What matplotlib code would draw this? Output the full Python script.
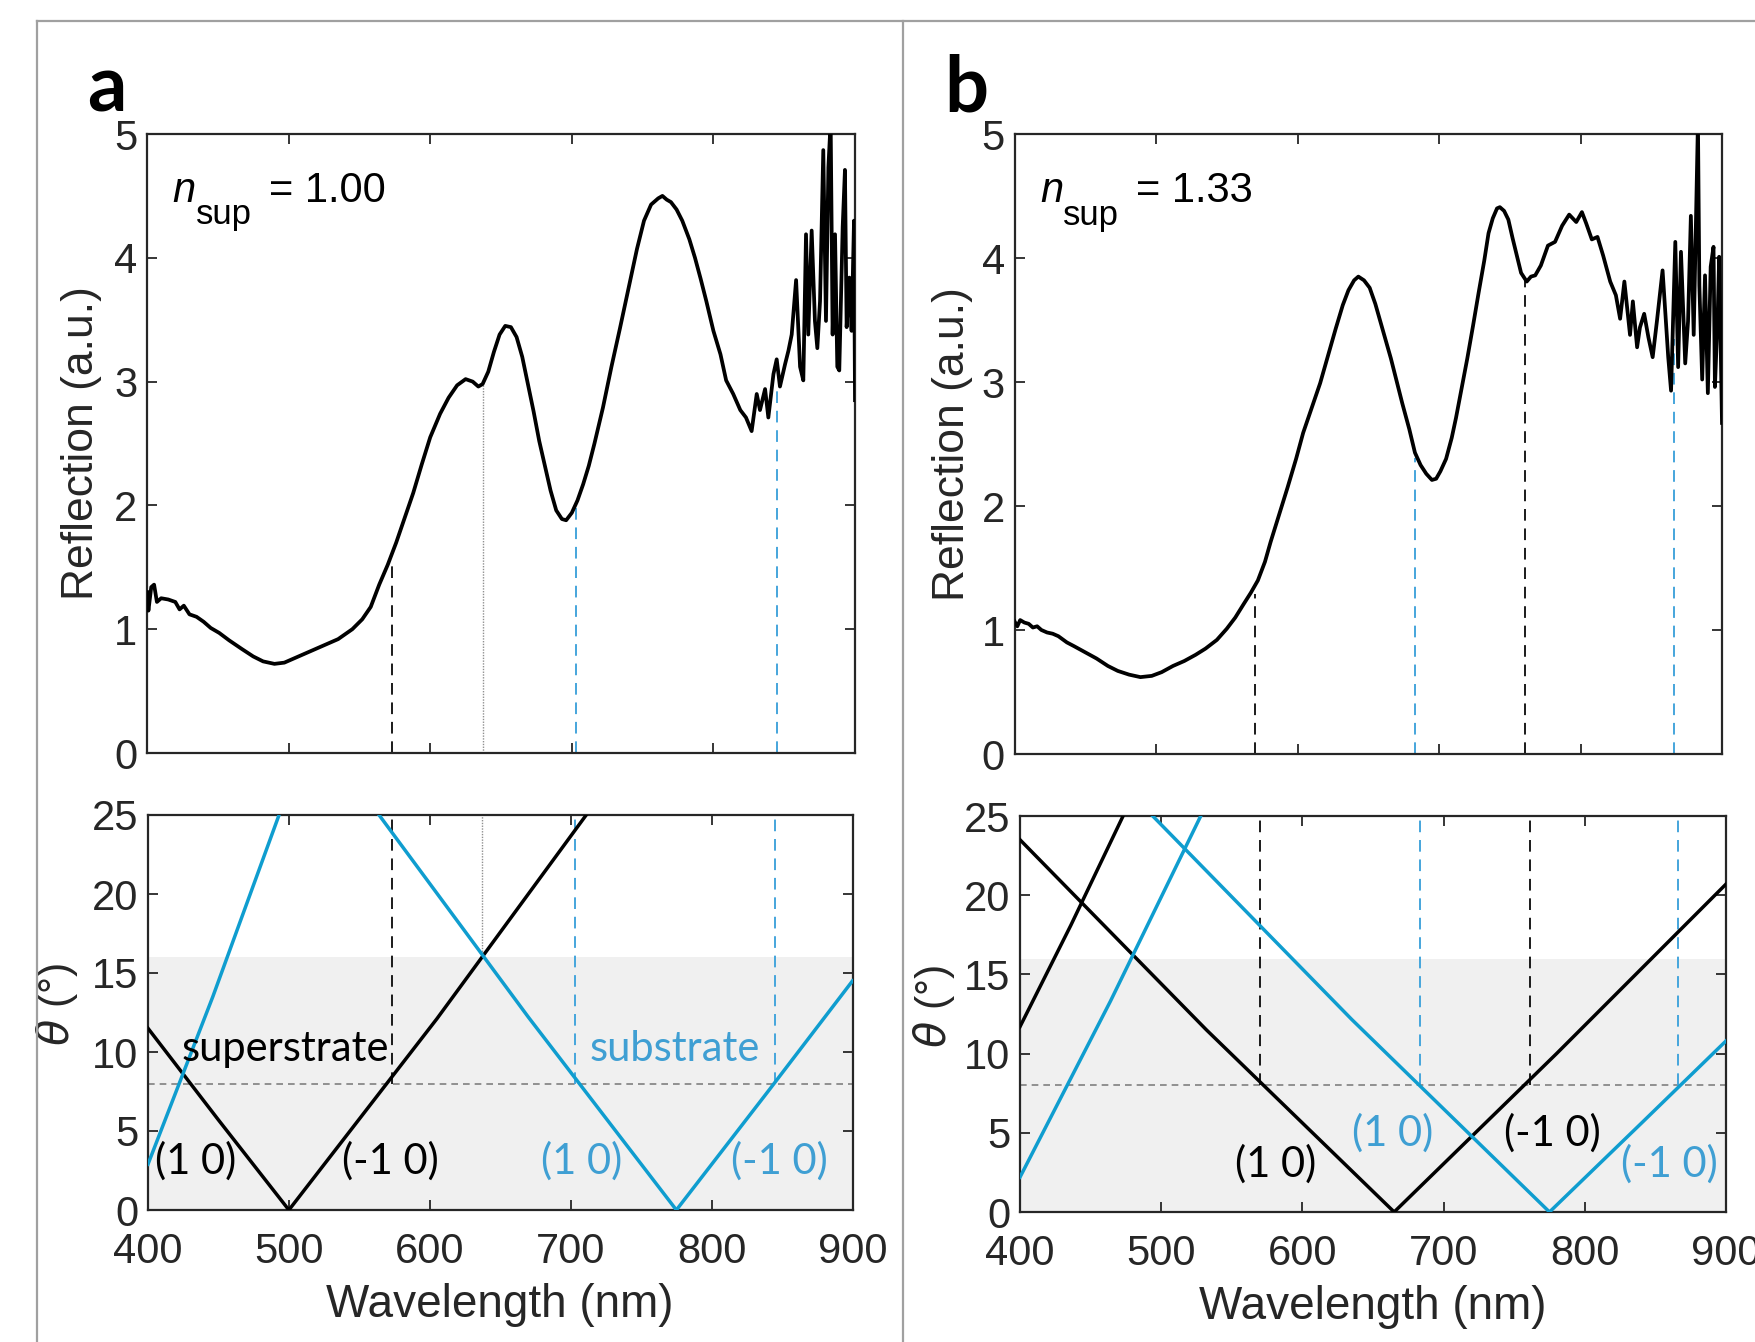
import matplotlib
matplotlib.use('Agg')
import matplotlib.pyplot as plt
from matplotlib.lines import Line2D

plt.rcParams['font.family'] = ['Liberation Sans', 'DejaVu Sans']

# ---------------- data: reflection spectra ----------------
wl_a = [400, 401, 403, 405, 407, 410, 415, 420, 423, 426, 430, 435, 440, 445, 451, 458, 467, 475,
        482, 490, 497, 505, 515, 525, 535, 545, 552, 558, 564, 570, 576, 582, 588, 594, 600, 607,
        613, 619, 625, 630, 634, 637, 641, 645, 649, 653, 657, 661, 665, 669, 673, 677, 681, 685,
        689, 693, 696, 700, 704, 708, 712, 716, 722, 728, 734, 740, 746, 751, 756, 761, 764, 767,
        770, 774, 778, 783, 787, 791, 795, 800, 805, 809, 814, 819, 823, 827, 830.6, 832.9, 836.5,
        838.8, 842.4, 844.7, 847, 850.6, 853, 855.3, 858.4, 861.2, 863.5, 865.4, 867, 869.4, 871.7,
        873.4, 875.3, 877.6, 879.5, 881.2, 882.8, 884.2, 885.9, 887.5, 888.9, 891.3, 892.9, 894.1,
        896, 897.6, 899.3, 900]
R_a = [1.30, 1.15, 1.34, 1.36, 1.22, 1.25, 1.24, 1.22, 1.16, 1.19, 1.12, 1.10, 1.06, 1.01, 0.97,
       0.91, 0.84, 0.78, 0.74, 0.72, 0.73, 0.77, 0.82, 0.87, 0.92, 1.00, 1.08, 1.18, 1.36, 1.52,
       1.70, 1.90, 2.10, 2.33, 2.55, 2.74, 2.87, 2.97, 3.02, 3.00, 2.96, 2.98, 3.08, 3.24, 3.38,
       3.45, 3.44, 3.36, 3.20, 2.98, 2.76, 2.52, 2.32, 2.12, 1.96, 1.89, 1.88, 1.94, 2.04, 2.17,
       2.32, 2.50, 2.79, 3.12, 3.43, 3.75, 4.07, 4.30, 4.43, 4.48, 4.50, 4.47, 4.45, 4.39, 4.30,
       4.15, 4.00, 3.83, 3.65, 3.41, 3.22, 3.01, 2.90, 2.77, 2.71, 2.60, 2.90, 2.77, 2.94, 2.71,
       3.06, 3.18, 2.96, 3.14, 3.25, 3.38, 3.82, 3.12, 3.01, 4.19, 3.38, 4.22, 3.49, 3.27, 3.65,
       4.87, 3.49, 4.73, 5.10, 3.38, 4.19, 3.12, 3.09, 4.25, 4.71, 3.44, 3.84, 3.41, 4.30, 2.85]

wl_b = [400, 402, 404, 407, 410, 413, 416, 419, 423, 427, 431, 437, 442, 450, 458, 466, 473, 481,
        489, 497, 504, 512, 520, 528, 535, 543, 550, 556, 562, 567, 572, 577, 581, 587, 593, 599,
        604, 610, 616, 622, 627, 632, 636, 640, 643, 647, 651, 655, 658, 662, 666, 670, 674, 679,
        683, 687, 691, 695, 698, 701, 705, 709, 712, 716, 720, 724, 728, 732, 735, 738, 741, 743,
        746, 749, 752, 755, 758, 762, 765, 768, 772, 777, 782, 787, 792, 797, 801, 804, 808, 812,
        816, 821, 825, 828, 831, 835, 837, 840, 842, 845, 848, 851, 854, 858, 862, 864, 867, 869,
        871, 874, 876, 878, 880, 883, 884, 886, 888, 890, 892, 894, 895, 897, 898, 900]
R_b = [1.07, 1.03, 1.08, 1.06, 1.05, 1.02, 1.03, 1.00, 0.98, 0.97, 0.95, 0.90, 0.87, 0.82, 0.77,
       0.71, 0.67, 0.64, 0.62, 0.63, 0.66, 0.71, 0.75, 0.80, 0.85, 0.92, 1.01, 1.10, 1.21, 1.30,
       1.40, 1.55, 1.71, 1.93, 2.15, 2.38, 2.59, 2.79, 2.99, 3.23, 3.43, 3.62, 3.74, 3.82, 3.85,
       3.82, 3.76, 3.63, 3.51, 3.35, 3.19, 3.01, 2.83, 2.62, 2.43, 2.33, 2.26, 2.21, 2.22, 2.28,
       2.38, 2.55, 2.71, 2.95, 3.19, 3.45, 3.72, 3.98, 4.20, 4.32, 4.40, 4.41, 4.38, 4.31, 4.16,
       4.02, 3.88, 3.81, 3.85, 3.86, 3.94, 4.10, 4.13, 4.26, 4.35, 4.29, 4.37, 4.28, 4.15, 4.17,
       4.02, 3.81, 3.70, 3.51, 3.81, 3.38, 3.65, 3.28, 3.44, 3.55, 3.36, 3.20, 3.49, 3.90, 3.20,
       2.93, 4.13, 3.12, 4.05, 3.15, 3.49, 4.34, 3.38, 5.10, 3.78, 3.02, 3.86, 2.91, 3.93, 4.09,
       2.96, 3.55, 4.01, 2.67]

# ---------------- data: diffraction-order lines (wavelength, angle) ----------------
a_sup_p1 = ([400, 450, 500], [11.5, 5.7, 0])
a_sup_m1 = ([500, 605, 711], [0, 12.1, 25])
a_sub_p1 = ([564, 670, 775], [25, 12.2, 0])
a_sub_m1 = ([775, 840, 900], [0, 7.5, 14.5])
a_sub_2 = ([400, 446, 493], [2.9, 13.5, 25])

b_sup_p1 = ([400, 532, 665], [23.5, 11.5, 0])
b_sup_m1 = ([665, 780, 900], [0, 10.0, 20.7])
b_sup_2 = ([400, 436, 473], [11.7, 18.1, 25])
b_sub_p1 = ([494, 635, 775], [25, 12.15, 0])
b_sub_m1 = ([775, 840, 900], [0, 5.6, 10.8])
b_sub_2 = ([400, 464, 528], [2.2, 13.3, 25])

# marker lines: wavelength, reflection at top, kind, starting angle in lower panel
a_marks_wl = [573, 637, 703, 845]
a_marks_R = [1.55, 2.97, 2.00, 2.97]
a_marks_kind = ['k', 'dot', 'b', 'b']
a_marks_theta = [8, 16, 8, 8]
b_marks_wl = [570, 683, 761, 866]
b_marks_R = [1.29, 2.39, 3.83, 3.35]
b_marks_kind = ['k', 'b', 'k', 'b']
b_marks_theta = [8, 8, 8, 8]

theta_inc = 8
theta_na = 16
n_sup_labels = ['1.00', '1.33']

W, H = 1755, 1342
fig = plt.figure(figsize=(W / 100, H / 100), dpi=100)

BLUE = '#0f9dcf'
BLUE_D = '#45a5dc'
BLUE_T = '#3f9fd3'
AX = '#262626'

# frame lines
for xs, ys in [([37 / W, 37 / W], [0, 1 - 21 / H]),
               ([37 / W, 1.0], [1 - 21 / H, 1 - 21 / H]),
               ([903 / W, 903 / W], [0, 1 - 21 / H])]:
    fig.add_artist(Line2D(xs, ys, transform=fig.transFigure, color='#a0a0a0', lw=1.6))

ax_at = fig.add_axes([147 / W, 1 - 753 / H, 708 / W, 619 / H])
ax_ab = fig.add_axes([148 / W, 1 - 1210 / H, 704.5 / W, 395 / H])
ax_bt = fig.add_axes([1014.5 / W, 1 - 754 / H, 707.5 / W, 620 / H])
ax_bb = fig.add_axes([1020 / W, 1 - 1212 / H, 706 / W, 396 / H])


def style(ax, bottom_labels):
    for s in ax.spines.values():
        s.set_color(AX)
        s.set_linewidth(1.6)
    ax.tick_params(direction='in', top=True, right=True, length=7, width=1.3,
                   labelsize=30, colors=AX, labelbottom=bottom_labels, pad=7)
    ax.tick_params(axis='x', pad=16)
    ax.set_xlim(400, 900)
    ax.set_xticks([400, 500, 600, 700, 800, 900])


def dash_color(kind):
    return {'k': '#1a1a1a', 'b': BLUE_D, 'dot': '#909090'}[kind]


def dash_style(kind):
    return (0, (1, 1)) if kind == 'dot' else (0, (6, 4))


def top_panel(ax, wl, R, mwl, mR, mk, nlab, ylab_x):
    style(ax, False)
    ax.set_ylim(0, 5)
    ax.set_yticks([0, 1, 2, 3, 4, 5])
    for x, r, k in zip(mwl, mR, mk):
        ax.plot([x, x], [0, r], color=dash_color(k), lw=1.4 if k != 'dot' else 1.0,
                linestyle=dash_style(k), zorder=2)
    ax.plot(wl, R, color='black', lw=2.7, zorder=3, clip_on=True)
    ax.text(418, 4.45, 'n', fontsize=30, style='italic', va='baseline', ha='left', color='black')
    ax.text(434.5, 4.27, 'sup', fontsize=25, va='baseline', ha='left', color='black')
    ax.text(486, 4.45, '= ' + nlab, fontsize=30, va='baseline', ha='left', color='black')
    ax.set_ylabel('Reflection (a.u.)', fontsize=32, color=AX, va='center')
    ax.yaxis.set_label_coords(ylab_x, 0.5)


def bottom_panel(ax, lines_k, lines_b, mwl, mk, mth, ylab_x):
    style(ax, True)
    ax.set_ylim(0, 25)
    ax.set_yticks([0, 5, 10, 15, 20, 25])
    ax.axhspan(0, theta_na, color='#f0f0f0', zorder=0, lw=0)
    ax.axhline(theta_inc, color='#808080', lw=1.2, linestyle=(0, (4, 3)), zorder=1)
    for x, k, t in zip(mwl, mk, mth):
        ax.plot([x, x], [t, 25], color=dash_color(k), lw=1.4 if k != 'dot' else 1.0,
                linestyle=dash_style(k), zorder=2)
    for xs, ys in lines_k:
        ax.plot(xs, ys, color='black', lw=2.5, zorder=3)
    for xs, ys in lines_b:
        ax.plot(xs, ys, color=BLUE, lw=2.5, zorder=3)
    ax.set_xlabel('Wavelength (nm)', fontsize=33, color=AX, va='center')
    ax.xaxis.set_label_coords(0.5, -0.2405)
    ax.set_ylabel(r'$\theta$ (°)', fontsize=31, color=AX, va='center')
    ax.yaxis.set_label_coords(ylab_x, 0.52)


top_panel(ax_at, wl_a, R_a, a_marks_wl, a_marks_R, a_marks_kind, n_sup_labels[0], -0.092)
top_panel(ax_bt, wl_b, R_b, b_marks_wl, b_marks_R, b_marks_kind, n_sup_labels[1], -0.087)

bottom_panel(ax_ab, [a_sup_p1, a_sup_m1], [a_sub_p1, a_sub_m1, a_sub_2],
             a_marks_wl, a_marks_kind, a_marks_theta, -0.1285)
bottom_panel(ax_bb, [b_sup_p1, b_sup_m1, b_sup_2], [b_sub_p1, b_sub_m1, b_sub_2],
             b_marks_wl, b_marks_kind, b_marks_theta, -0.122)

ANN = ['Lato', 'DejaVu Sans']
afs = 30
ax_ab.text(424, 10.2, 'superstrate', family=ANN, fontsize=afs, color='black', ha='left', va='center')
ax_ab.text(774, 10.2, 'substrate', family=ANN, fontsize=afs, color=BLUE_T, ha='center', va='center')
ax_ab.text(434, 3.1, '(1 0)', family=ANN, fontsize=afs, color='black', ha='center', va='center')
ax_ab.text(572, 3.1, '(-1 0)', family=ANN, fontsize=afs, color='black', ha='center', va='center')
ax_ab.text(708, 3.1, '(1 0)', family=ANN, fontsize=afs, color=BLUE_T, ha='center', va='center')
ax_ab.text(848, 3.1, '(-1 0)', family=ANN, fontsize=afs, color=BLUE_T, ha='center', va='center')

ax_bb.text(581, 3.0, '(1 0)', family=ANN, fontsize=afs, color='black', ha='center', va='center')
ax_bb.text(664, 5.0, '(1 0)', family=ANN, fontsize=afs, color=BLUE_T, ha='center', va='center')
ax_bb.text(777, 5.0, '(-1 0)', family=ANN, fontsize=afs, color='black', ha='center', va='center')
ax_bb.text(860, 3.0, '(-1 0)', family=ANN, fontsize=afs, color=BLUE_T, ha='center', va='center')

fig.text(87 / W, 1 - 112 / H, 'a', family=ANN, fontsize=56, fontweight='bold', va='baseline', ha='left')
fig.text(944 / W, 1 - 112 / H, 'b', family=ANN, fontsize=56, fontweight='bold', va='baseline', ha='left')

fig.savefig('out.png', dpi=100, facecolor='white')
